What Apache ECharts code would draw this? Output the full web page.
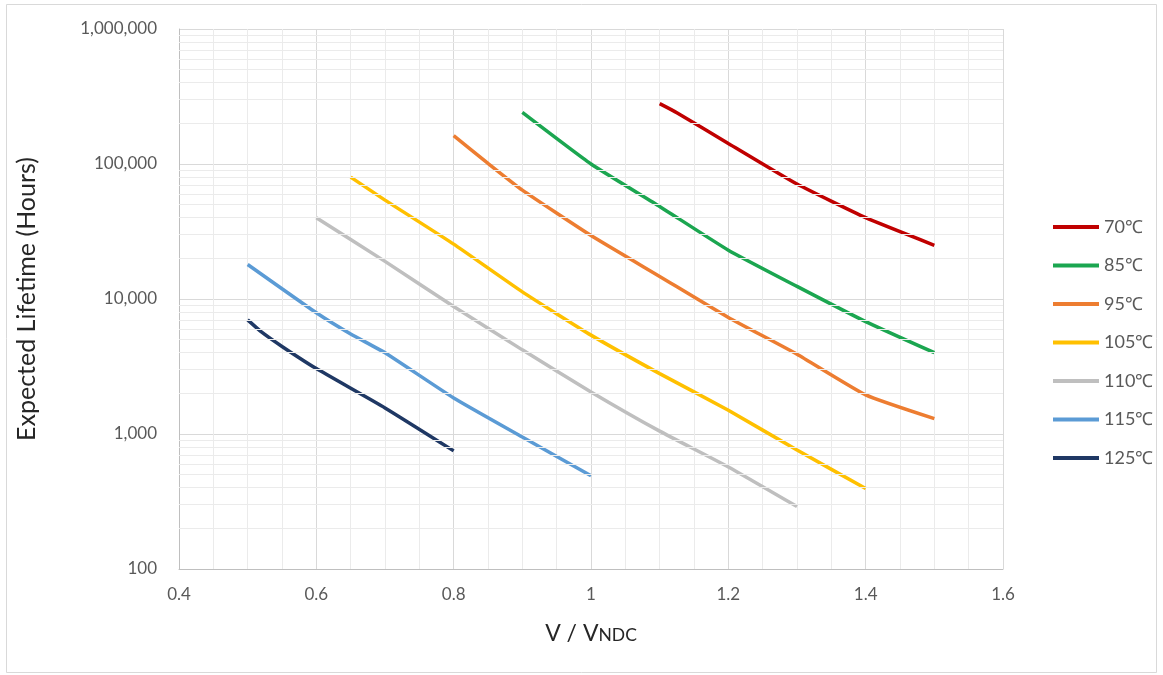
<!DOCTYPE html>
<html>
<head>
<meta charset="utf-8">
<script src="https://cdn.jsdelivr.net/npm/echarts@6/dist/echarts.min.js"></script>
<style>
html,body{margin:0;padding:0;background:#fff;}
#chart{width:1163px;height:675px;}
</style>
</head>
<body>
<div id="chart"></div>
<script>
// ---- data ----
const seriesNames = ['70℃', '85℃', '95℃', '105℃', '110℃', '115℃', '125℃'];
const x70 = [1.1, 1.125, 1.2, 1.3, 1.4, 1.5];
const y70 = [280000, 240000, 142000, 71000, 40000, 25000];
const x85 = [0.9, 1.0, 1.1, 1.2, 1.3, 1.4, 1.5];
const y85 = [241000, 100000, 48500, 23000, 12400, 6800, 4000];
const x95 = [0.8, 0.85, 0.9, 1.0, 1.1, 1.2, 1.3, 1.4, 1.5];
const y95 = [162000, 101000, 64000, 29500, 14700, 7300, 3900, 1950, 1300];
const x105 = [0.65, 0.7, 0.8, 0.9, 1.0, 1.1, 1.2, 1.3, 1.4];
const y105 = [80000, 54000, 25500, 11300, 5400, 2800, 1500, 760, 395];
const x110 = [0.6, 0.7, 0.8, 0.9, 1.0, 1.1, 1.2, 1.3];
const y110 = [40000, 19000, 8800, 4200, 2050, 1050, 570, 290];
const x115 = [0.5, 0.6, 0.65, 0.7, 0.8, 0.9, 1.0];
const y115 = [18000, 7900, 5500, 4000, 1850, 950, 490];
const x125 = [0.5, 0.52, 0.55, 0.6, 0.7, 0.8];
const y125 = [7000, 5700, 4450, 3050, 1560, 750];
const colors = ['#C00000', '#1BA650', '#ED7D31', '#FFC000', '#BFBFBF', '#5B9BD5', '#1F3864'];
const xTitle = 'V / V';
const xTitleSub = 'NDC';
const yTitle = 'Expected Lifetime (Hours)';

const xsAll = [x70, x85, x95, x105, x110, x115, x125];
const ysAll = [y70, y85, y95, y105, y110, y115, y125];

// minor log gridlines (2..9 of each decade)
const minorY = [];
for (let d = 100; d < 1000000; d *= 10) {
  for (let k = 2; k <= 9; k++) minorY.push({ yAxis: k * d });
}

const FONT = 'Lato, "Open Sans", sans-serif';

const series = seriesNames.map((name, i) => ({
  name: name,
  type: 'line',
  data: xsAll[i].map((x, j) => [x, ysAll[i][j]]),
  showSymbol: false,
  symbol: 'none',
  smooth: 0.15,
  lineStyle: { width: 3.5, color: colors[i] },
  itemStyle: { color: colors[i] },
  z: 3
}));

series.push({
  name: '__minor',
  type: 'line',
  data: [],
  silent: true,
  z: 1,
  markLine: {
    silent: true,
    symbol: 'none',
    animation: false,
    label: { show: false },
    lineStyle: { color: '#ebebeb', width: 1, type: 'solid' },
    emphasis: { disabled: true },
    data: minorY
  }
});

const chart = echarts.init(document.getElementById('chart'), null, { renderer: 'canvas' });
chart.setOption({
  animation: false,
  backgroundColor: '#ffffff',
  color: colors,
  graphic: [{
    type: 'rect',
    shape: { x: 6.5, y: 4.5, width: 1150, height: 668 },
    style: { fill: 'none', stroke: '#d9d9d9', lineWidth: 1 },
    z: -10, silent: true
  }],
  grid: { left: 179, top: 29, right: 160, bottom: 106, containLabel: false },
  legend: {
    data: seriesNames,
    orient: 'vertical',
    left: 1048,
    top: 212,
    icon: 'rect',
    itemWidth: 46,
    itemHeight: 4,
    itemGap: 18.5,
    textStyle: { fontFamily: FONT, fontSize: 18, color: '#595959', lineHeight: 8, padding: [12, 0, 0, 0] }
  },
  xAxis: {
    type: 'value',
    min: 0.4, max: 1.6, interval: 0.2,
    axisLine: { show: true, lineStyle: { color: '#bfbfbf', width: 1 } },
    axisTick: { show: false },
    minorTick: { show: false, splitNumber: 4 },
    splitLine: { show: true, lineStyle: { color: '#d9d9d9', width: 1 } },
    minorSplitLine: { show: true, lineStyle: { color: '#ebebeb', width: 1 } },
    axisLabel: { fontFamily: FONT, fontSize: 17, color: '#595959', margin: 17 },
    name: xTitle + '{s|' + xTitleSub + '}',
    nameLocation: 'middle',
    nameGap: 53,
    nameTextStyle: {
      fontFamily: FONT, fontSize: 23, color: '#262626',
      rich: { s: { fontFamily: FONT, fontSize: 17.5, color: '#262626', padding: [4, 0, 0, 0] } }
    }
  },
  yAxis: {
    type: 'log',
    logBase: 10,
    min: 100, max: 1000000,
    axisLine: { show: true, lineStyle: { color: '#bfbfbf', width: 1 } },
    axisTick: { show: false },
    splitLine: { show: true, lineStyle: { color: '#d9d9d9', width: 1 } },
    axisLabel: {
      fontFamily: FONT, fontSize: 17, color: '#595959', margin: 22,
      formatter: v => Math.round(v).toLocaleString('en-US')
    },
    name: yTitle,
    nameLocation: 'middle',
    nameGap: 140,
    nameRotate: 90,
    nameTextStyle: { fontFamily: FONT, fontSize: 25, color: '#262626' }
  },
  series: series
});
</script>
</body>
</html>
